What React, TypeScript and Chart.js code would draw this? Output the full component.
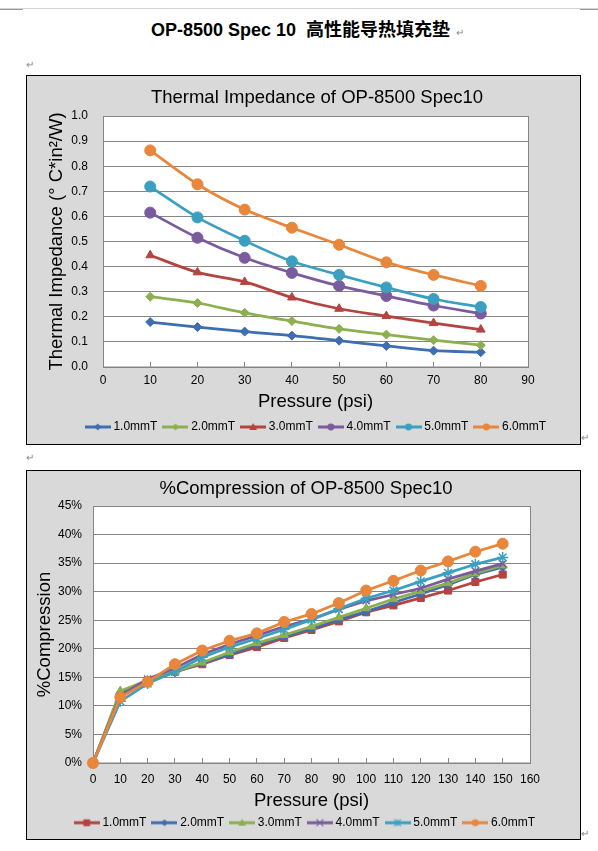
import React, { useEffect, useRef } from 'react';
import { Chart, registerables } from 'chart.js';

Chart.register(...registerables);

const FONT = '"Liberation Sans", Arial, sans-serif';

// --- Thermal impedance chart ---
const tiPressure = [10, 20, 30, 40, 50, 60, 70, 80];
const tiNames = ['1.0mmT', '2.0mmT', '3.0mmT', '4.0mmT', '5.0mmT', '6.0mmT'];
const ti10 = [0.179, 0.159, 0.141, 0.125, 0.105, 0.084, 0.065, 0.059];
const ti20 = [0.28, 0.255, 0.216, 0.183, 0.152, 0.129, 0.107, 0.087];
const ti30 = [0.445, 0.377, 0.339, 0.277, 0.232, 0.203, 0.175, 0.149];
const ti40 = [0.615, 0.515, 0.435, 0.375, 0.323, 0.283, 0.245, 0.213];
const ti50 = [0.719, 0.596, 0.503, 0.421, 0.367, 0.317, 0.271, 0.239];
const ti60 = [0.863, 0.728, 0.627, 0.555, 0.487, 0.417, 0.367, 0.323];
const tiColors = ['#3e6db1', '#8db04f', '#b5433f', '#7a5c9e', '#3ba0bf', '#e8863b'];
const tiStyles = ['rectRot', 'rectRot', 'triangle', 'circle', 'circle', 'circle'];

// --- Compression chart ---
const cpPressure = [0, 10, 20, 30, 40, 50, 60, 70, 80, 90, 100, 110, 120, 130, 140, 150];
const cpNames = ['1.0mmT', '2.0mmT', '3.0mmT', '4.0mmT', '5.0mmT', '6.0mmT'];
const cp10 = [0, 11.8, 14.4, 16.0, 17.3, 18.9, 20.3, 21.9, 23.3, 24.8, 26.4, 27.6, 28.9, 30.2, 31.7, 33.0];
const cp20 = [0, 12.2, 14.2, 15.9, 17.5, 19.0, 20.7, 22.1, 23.5, 25.1, 26.5, 28.1, 29.6, 31.2, 33.0, 34.3];
const cp30 = [0, 12.6, 14.5, 16.0, 17.6, 19.4, 21.0, 22.4, 23.9, 25.5, 27.1, 28.7, 30.1, 31.5, 33.2, 34.6];
const cp40 = [0, 11.8, 14.7, 16.6, 19.0, 20.8, 22.3, 23.9, 25.2, 26.9, 28.4, 29.5, 30.6, 32.2, 33.6, 34.9];
const cp50 = [0, 10.8, 13.9, 16.0, 18.5, 20.3, 21.8, 23.4, 25.1, 27.0, 28.8, 30.2, 31.8, 33.3, 34.8, 36.0];
const cp60 = [0, 11.5, 14.2, 17.3, 19.7, 21.4, 22.7, 24.7, 26.1, 28.0, 30.2, 31.9, 33.7, 35.3, 37.0, 38.4];
const cpColors = ['#b5433f', '#3e6db1', '#8db04f', '#7a5c9e', '#3ba0bf', '#e8863b'];
const cpStyles = ['rect', 'rectRot', 'triangle', 'crossRot', 'star', 'circle'];

const GRID = '#868686';

// legend icon: a short line with the marker in the middle
function legendIcon(color: string, style: string) {
  const c = document.createElement('canvas');
  c.width = 26;
  c.height = 12;
  const g = c.getContext('2d')!;
  g.strokeStyle = color;
  g.fillStyle = color;
  g.lineWidth = 3;
  g.beginPath();
  g.moveTo(0, 6);
  g.lineTo(26, 6);
  g.stroke();
  const cx = 13, cy = 6, r = 3.4;
  g.lineWidth = 1.2;
  g.beginPath();
  if (style === 'circle') {
    g.arc(cx, cy, r, 0, Math.PI * 2);
    g.fill();
  } else if (style === 'rectRot') {
    g.moveTo(cx, cy - r);
    g.lineTo(cx + r, cy);
    g.lineTo(cx, cy + r);
    g.lineTo(cx - r, cy);
    g.closePath();
    g.fill();
  } else if (style === 'triangle') {
    g.moveTo(cx, cy - r - 0.5);
    g.lineTo(cx + r + 0.5, cy + r - 0.5);
    g.lineTo(cx - r - 0.5, cy + r - 0.5);
    g.closePath();
    g.fill();
  } else if (style === 'rect') {
    g.fillRect(cx - r, cy - r, 2 * r, 2 * r);
  } else {
    g.moveTo(cx - r, cy - r);
    g.lineTo(cx + r, cy + r);
    g.moveTo(cx + r, cy - r);
    g.lineTo(cx - r, cy + r);
    if (style === 'star') {
      g.moveTo(cx, cy - r);
      g.lineTo(cx, cy + r);
    }
    g.stroke();
  }
  return c;
}

const plotFrame = {
  id: 'plotFrame',
  beforeDraw(chart: any) {
    const { ctx, chartArea: a, width, height } = chart;
    ctx.save();
    ctx.fillStyle = '#d9d9d9';
    ctx.fillRect(0, 0, width, height);
    ctx.fillStyle = '#ffffff';
    ctx.fillRect(a.left, a.top, a.right - a.left, a.bottom - a.top);
    ctx.restore();
  },
  beforeDatasetsDraw(chart: any) {
    const { ctx, chartArea: a } = chart;
    ctx.save();
    ctx.strokeStyle = GRID;
    ctx.lineWidth = 1;
    ctx.strokeRect(Math.round(a.left) + 0.5, Math.round(a.top) + 0.5, Math.round(a.right - a.left), Math.round(a.bottom - a.top) - 0.5);
    ctx.restore();
  },
};

function makeDatasets(xs: number[], series: number[][], names: string[], colors: string[], styles: string[], radii: number[], tension: number) {
  return series.map((ys, i) => ({
    label: names[i],
    data: xs.map((x, j) => ({ x, y: ys[j] })),
    borderColor: colors[i],
    backgroundColor: colors[i],
    borderWidth: 2.75,
    pointStyle: styles[i],
    pointRadius: radii[i],
    pointBackgroundColor: colors[i],
    pointBorderColor: colors[i],
    pointBorderWidth: styles[i] === 'crossRot' || styles[i] === 'star' ? 1.5 : 1,
    tension,
    clip: false,
    order: series.length - 1 - i,
  }));
}

function legendOptions(colors: string[], styles: string[]) {
  const icons = colors.map((c, i) => legendIcon(c, styles[i]));
  return {
    position: 'bottom',
    labels: {
      usePointStyle: true,
      pointStyleWidth: 19.4,
      boxHeight: 12,
      padding: 8.3,
      color: '#000',
      font: { family: FONT, size: 12 },
      generateLabels: (chart: any) =>
        chart.data.datasets.map((ds: any, i: number) => ({
          text: ds.label,
          datasetIndex: i,
          pointStyle: icons[i],
          fillStyle: ds.borderColor,
          strokeStyle: ds.borderColor,
          lineWidth: 0,
          hidden: false,
          fontColor: '#000',
        })),
    },
  };
}

const tickFont = { family: FONT, size: 12 };
const titleFont = { family: FONT, size: 18.5, weight: 'normal' };

function thermalConfig(): any {
  return {
    type: 'line',
    data: {
      datasets: makeDatasets(
        tiPressure,
        [ti10, ti20, ti30, ti40, ti50, ti60],
        tiNames,
        tiColors,
        tiStyles,
        [4.5, 4.5, 5, 5.5, 5.5, 5.5],
        0.3
      ),
    },
    options: {
      responsive: false,
      animation: false,
      layout: { padding: { left: 27, right: 0, top: 0, bottom: 1 } },
      plugins: {
        title: {
          display: true,
          text: 'Thermal Impedance of OP-8500 Spec10',
          color: '#000',
          font: titleFont,
          padding: { top: 10.9, bottom: 6.9 },
        },
        legend: legendOptions(tiColors, tiStyles),
        tooltip: { enabled: false },
      },
      scales: {
        x: {
          type: 'linear',
          min: 0,
          max: 90,
          ticks: { stepSize: 10, padding: 11.8, color: '#000', font: tickFont },
          grid: { drawOnChartArea: false, drawTicks: true, tickLength: -5, color: GRID },
          border: { display: true, color: GRID },
          title: { display: true, text: 'Pressure (psi)', color: '#000', font: titleFont, padding: { top: 0, bottom: -0.4 } },
          afterFit: (s: any) => { s.height = 45.7; },
        },
        y: {
          type: 'linear',
          min: 0,
          max: 1,
          ticks: { stepSize: 0.1, padding: 15, color: '#000', font: tickFont, callback: (v: any) => Number(v).toFixed(1) },
          grid: { color: GRID, drawTicks: false },
          border: { display: false },
          title: { display: true, text: 'Thermal Impedance (° C*in²/W)', color: '#000', font: titleFont, padding: { top: -8.1, bottom: 0 } },
          afterFit: (s: any) => { s.width = 49; },
        },
        y2: {
          type: 'linear',
          position: 'right',
          ticks: { display: false },
          grid: { display: false },
          border: { display: false },
          afterFit: (s: any) => { s.width = 52; },
        },
      },
    },
    plugins: [plotFrame],
  };
}

function compressionConfig(): any {
  return {
    type: 'line',
    data: {
      datasets: makeDatasets(
        cpPressure,
        [cp10, cp20, cp30, cp40, cp50, cp60],
        cpNames,
        cpColors,
        cpStyles,
        [5, 4.5, 5, 5, 5.5, 5.5],
        0
      ),
    },
    options: {
      responsive: false,
      animation: false,
      layout: { padding: { left: 5, right: 0, top: 0, bottom: 0.3 } },
      plugins: {
        title: {
          display: true,
          text: '%Compression of OP-8500 Spec10',
          color: '#000',
          font: titleFont,
          padding: { top: 6.9, bottom: 5.9 },
        },
        legend: legendOptions(cpColors, cpStyles),
        tooltip: { enabled: false },
      },
      scales: {
        x: {
          type: 'linear',
          min: 0,
          max: 160,
          ticks: { stepSize: 10, padding: 14.8, color: '#000', font: tickFont },
          grid: { drawOnChartArea: false, drawTicks: true, tickLength: -5, color: GRID },
          border: { display: true, color: GRID },
          title: { display: true, text: 'Pressure (psi)', color: '#000', font: titleFont, padding: { top: 0, bottom: -3.7 } },
          afterFit: (s: any) => { s.height = 45.4; },
        },
        y: {
          type: 'linear',
          min: 0,
          max: 45,
          ticks: { stepSize: 5, padding: 11, color: '#000', font: tickFont, callback: (v: any) => Math.round(Number(v)) + '%' },
          grid: { color: GRID, drawTicks: false },
          border: { display: false },
          title: { display: true, text: '%Compression', color: '#000', font: titleFont, padding: { top: 1.4, bottom: 0 } },
          afterFit: (s: any) => { s.width = 61; },
        },
        y2: {
          type: 'linear',
          position: 'right',
          ticks: { display: false },
          grid: { display: false },
          border: { display: false },
          afterFit: (s: any) => { s.width = 50; },
        },
      },
    },
    plugins: [plotFrame],
  };
}

function ChartBox({ top, build }: { top: number; build: () => any }) {
  const canvasRef = useRef<HTMLCanvasElement | null>(null);

  useEffect(() => {
    if (!canvasRef.current) return;
    const chart = new Chart(canvasRef.current, build());
    return () => chart.destroy();
  }, [build]);

  return (
    <div
      style={{
        position: 'absolute',
        left: 26,
        top,
        width: 555,
        height: 370,
        border: '1px solid #000',
        boxSizing: 'border-box',
        background: '#d9d9d9',
      }}
    >
      <canvas ref={canvasRef} width={553} height={368} style={{ display: 'block', width: 553, height: 368 }} />
    </div>
  );
}

const markStyle: React.CSSProperties = {
  position: 'absolute',
  fontSize: 10,
  color: '#8a8a8a',
  lineHeight: '10px',
  fontFamily: FONT,
};

export default function App() {
  return (
    <div
      style={{
        position: 'absolute',
        left: 0,
        top: 0,
        width: 598,
        height: 851,
        background: '#fff',
        overflow: 'hidden',
      }}
    >
      {/* page header rule */}
      <div style={{ position: 'absolute', left: 0, top: 8, width: 598, height: 1, background: '#d4d4d4' }} />
      <div style={{ position: 'absolute', left: 0, top: 9, width: 23, height: 1, background: '#9a9a9a' }} />
      <div style={{ position: 'absolute', left: 580, top: 9, width: 18, height: 1, background: '#9a9a9a' }} />

      <div
        style={{
          position: 'absolute',
          left: 151,
          top: 19,
          whiteSpace: 'pre',
          fontFamily: '"Liberation Sans", "Noto Sans CJK SC", sans-serif',
          fontWeight: 'bold',
          fontSize: 18,
          lineHeight: '22px',
          color: '#000',
        }}
      >
        {'OP-8500 Spec 10  高性能导热填充垫'}
      </div>
      <div style={{ ...markStyle, left: 456, top: 28 }}>↵</div>
      <div style={{ ...markStyle, left: 26, top: 60 }}>↵</div>
      <div style={{ ...markStyle, left: 581, top: 433 }}>↵</div>
      <div style={{ ...markStyle, left: 26, top: 453 }}>↵</div>
      <div style={{ ...markStyle, left: 581, top: 829 }}>↵</div>

      <ChartBox top={75} build={thermalConfig} />
      <ChartBox top={470} build={compressionConfig} />
    </div>
  );
}
